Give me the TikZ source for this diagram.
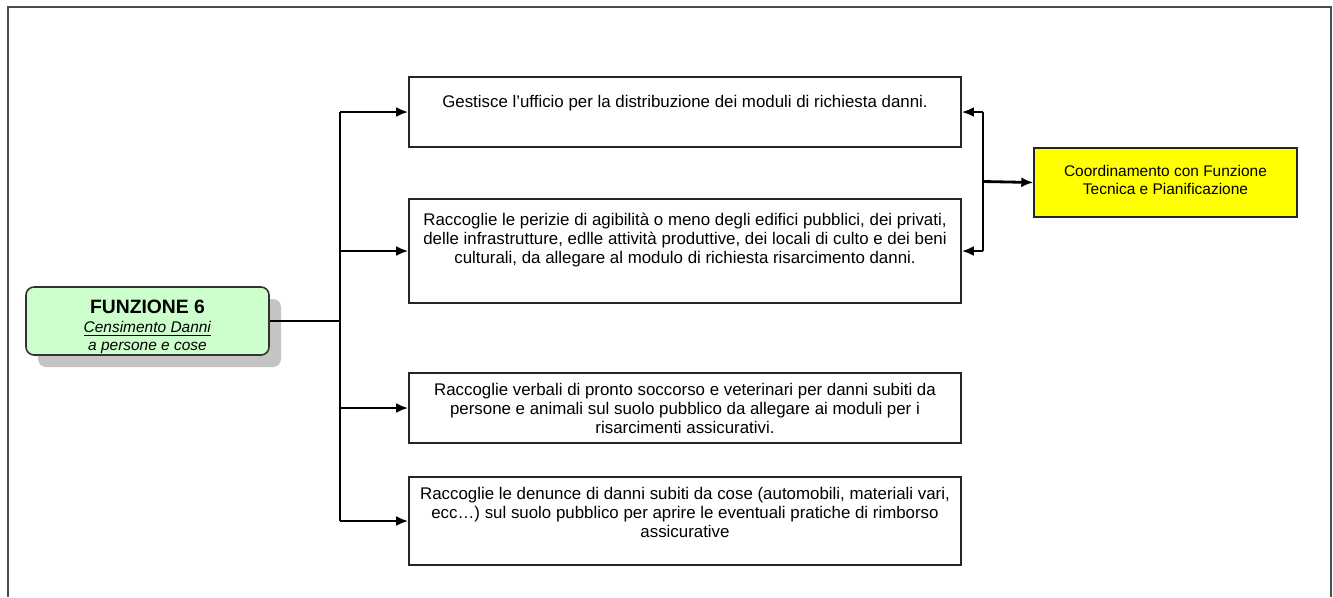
\documentclass[tikz,border=0pt]{standalone}
\usepackage{fontspec}
\setmainfont{Liberation Sans}
\usepackage{xcolor}
\usetikzlibrary{calc,shadows,arrows.meta}
\definecolor{verde_chiaro}{HTML}{CCFFCC}
\definecolor{giallo}{HTML}{FFFF00}

\begin{document}
\begin{tikzpicture}[>={Latex[length=0.24cm,width=0.2cm]},
    box/.style={draw=black!85, line width=0.9pt, minimum width=11.04cm, align=center,
      font=\fontsize{9.6}{10.8}\selectfont},
    linea/.style={black, line width=1.6pt}]

    % Cornice esterna (aperta in basso)
    \useasboundingbox (0,0) rectangle (26.66,-11.94);
    \draw[black!70, line width=1.2pt] (0.16,-11.94) -- (0.16,-0.14) -- (26.62,-0.14) -- (26.62,-11.94);

    % Funzione 6
    \node[draw=black!80, line width=0.9pt, fill=verde_chiaro, rounded corners=0.16cm,
      minimum width=4.86cm, minimum height=1.36cm, inner ysep=0pt, align=center,
      drop shadow={shadow xshift=0.24cm, shadow yshift=-0.24cm, fill=black!23, opacity=1},
      font=\fontsize{8.8}{10.2}\selectfont] (F) at (2.95,-6.42)
      {\rule{0pt}{0.5cm}{\fontsize{11}{12}\selectfont\bfseries FUNZIONE 6}\\[1pt]
       \underline{\textit{Censimento Danni}}\\ \textit{a persone e cose}};

    % Compiti della funzione
    \node[box, minimum height=1.4cm, text depth=0.44cm] (B1) at (13.7,-2.24)
      {Gestisce l'ufficio per la distribuzione dei moduli di richiesta danni.};
    \node[box, minimum height=2.08cm, text depth=0.52cm] (B2) at (13.7,-5.02)
      {Raccoglie le perizie di agibilità o meno degli edifici pubblici, dei privati,\\
       delle infrastrutture, edlle attività produttive, dei locali di culto e dei beni\\
       culturali, da allegare al modulo di richiesta risarcimento danni.};
    \node[box, minimum height=1.4cm] (B3) at (13.7,-8.16)
      {Raccoglie verbali di pronto soccorso e veterinari per danni subiti da\\
       persone e animali sul suolo pubblico da allegare ai moduli per i\\
       risarcimenti assicurativi.};
    \node[box, minimum height=1.76cm, text depth=0.36cm] (B4) at (13.7,-10.42)
      {Raccoglie le denunce di danni subiti da cose (automobili, materiali vari,\\
       ecc\dots) sul suolo pubblico per aprire le eventuali pratiche di rimborso\\
       assicurative};

    % Coordinamento
    \node[draw=black!85, line width=0.8pt, fill=giallo, minimum width=5.26cm,
      minimum height=1.38cm, align=center, text depth=0.1cm,
      font=\fontsize{8.8}{10}\selectfont] (C) at (23.31,-3.65)
      {Coordinamento con Funzione\\ Tecnica e Pianificazione};

    % Collegamenti a sinistra
    \coordinate (T) at (6.8,0);
    \draw[linea] (F.east) -- (F.east -| T);
    \draw[linea] (B1.west -| T) -- (B4.west -| T);
    \foreach \b in {B1,B2,B3,B4}
      \draw[linea,->] (\b.west -| T) -- (\b.west);

    % Collegamenti a destra
    \coordinate (R) at (19.66,0);
    \draw[linea] (B1.east -| R) -- (B2.east -| R);
    \foreach \b in {B1,B2}
      \draw[linea,->] (\b.east -| R) -- (\b.east);
    \draw[linea,->] ($(B1.east -| R)!0.5!(B2.east -| R)$) -- (C.west);
  \end{tikzpicture}
\end{document}
